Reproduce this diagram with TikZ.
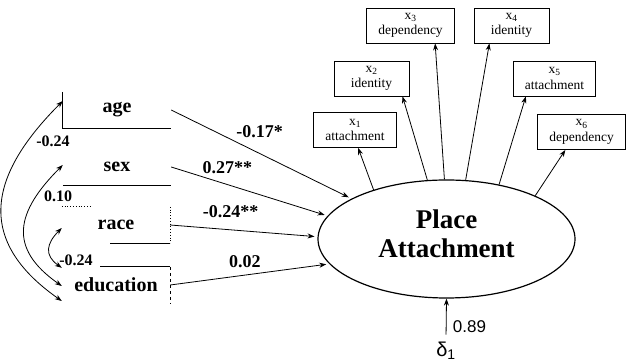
\documentclass[tikz,border=0pt]{standalone}
\usepackage{fontspec}
\setmainfont{Liberation Serif}
\newfontfamily\sansf{Liberation Sans}
\usetikzlibrary{positioning, arrows.meta, shapes.geometric}
\tikzset{
    x=1pt, y=1pt,
    >={Stealth[length=7pt,width=5pt]},
    var/.style={ % predictors, their boxes are only partly drawn
        minimum width=108pt, minimum height=36pt, inner sep=0pt,
        font=\fontsize{20}{22}\selectfont\bfseries
    },
    boxline/.style={line width=0.8pt},
    ind/.style={ % indicators of the factor
        draw, line width=0.8pt, align=center,
        minimum height=35pt, minimum width=75pt, inner xsep=11.5pt, inner ysep=2pt,
        font=\fontsize{13.5}{15.5}\selectfont
    },
    factor/.style={
        ellipse, draw, line width=1.2pt, inner sep=0pt,
        minimum width=257pt, minimum height=118pt
    },
    ftext/.style={align=center, font=\fontsize{27}{29}\selectfont\bfseries},
    coef/.style={font=\fontsize{18}{20}\selectfont\bfseries, inner sep=0pt},
    corr/.style={font=\fontsize{16}{18}\selectfont\bfseries, inner sep=0pt},
    corrarrow/.style={<->, line width=0.8pt},
    every edge/.style={ % all the directed paths
        draw,
        ->,
        line width=0.8pt
    },
}

\begin{document}
\begin{tikzpicture}
    \useasboundingbox (0,0) rectangle (634,363);
    % predictors
    \node[var] (age)  at (117,253) {age};
    \node[var] (sex)  at (117,196) {sex};
    \node[var] (race) at (116,138) {race};
    \node[var] (edu)  at (116,78)  {education};
    % what is left of their boxes
    \draw[boxline] (age.north west) -- (age.south west) -- (age.south east);
    \draw[boxline] (sex.south west) -- (sex.south east);
    \draw[boxline, dotted] (race.north west) -- ++(30,0);
    \draw[boxline, dotted] (race.north east) -- (race.south east);
    \draw[boxline] ([xshift=-60pt]race.south east) -- (race.south east);
    \draw[boxline] ([xshift=-70pt]edu.north east) -- (edu.north east);
    \draw[boxline, dashed] (edu.north east) -- (edu.south east);

    % latent factor
    \node[factor] (pa) at (446.5,124) {};
    \node[ftext] (patext) at ([yshift=5pt]pa.center) {Place\\Attachment};

    % indicators
    \node[ind] (x1) at (355,233)   {x\textsubscript{1}\\attachment};
    \node[ind] (x2) at (371.5,284.5) {x\textsubscript{2}\\identity};
    \node[ind] (x3) at (410.5,337.5) {x\textsubscript{3}\\dependency};
    \node[ind] (x4) at (511.5,337.5) {x\textsubscript{4}\\identity};
    \node[ind] (x5) at (554.5,284.5) {x\textsubscript{5}\\attachment};
    \node[ind] (x6) at (581.5,231)   {x\textsubscript{6}\\dependency};
    \draw   (pa.146) edge (x1.-80)
            (pa.108) edge (x2.-30)
            (pa.92)  edge (x3.-36)
            (pa.72)  edge (x4.219)
            (pa.46)  edge (x5.212)
            (pa.26)  edge (x6.228)
    ;

    % paths to the factor
    \draw   (age.east)  edge[shorten >=3pt] node[coef, above=15.7pt, pos=.49] (c1) {-0.17*}  (pa.157)
            (sex.east)  edge[shorten >=3pt] node[coef, above=10.7pt, pos=.36] (c2) {0.27**}  (pa.169)
            (race.east) edge[shorten >=3pt] node[coef, above=11.7pt, pos=.41] (c3) {-0.24**} (pa.179)
            (edu.east)  edge[shorten >=3pt] node[coef, above=7.4pt,  pos=.47] (c4) {0.02}    (pa.192)
    ;

    % correlations among predictors
    \draw[corrarrow] ([yshift=9pt]age.west)   to[out=225,in=145,looseness=1.35] ([yshift=-16pt]edu.west);
    \draw[corrarrow] ([yshift=2pt]sex.west)   to[out=225,in=145,looseness=1.4]  ([yshift=-1pt]edu.west);
    \draw[corrarrow] ([yshift=-3pt]race.west) to[out=225,in=145,looseness=1.4]  ([yshift=-1pt]edu.north west);
    \node[corr] (r1) at (53,222) {-0.24};
    \node[corr] (r2) at (58,167) {0.10};
    \node[corr] (r3) at (76,103) {-0.24};

    % disturbance
    \node[font=\sansf\fontsize{20}{22}\selectfont] (d1) at (446,12) {δ\textsubscript{1}};
    \draw   (d1.north) edge[shorten <=4pt] node[right=3pt, pos=.3, font=\sansf\fontsize{17}{19}\selectfont] (err) {0.89} (pa.south);
\end{tikzpicture}
\end{document}
